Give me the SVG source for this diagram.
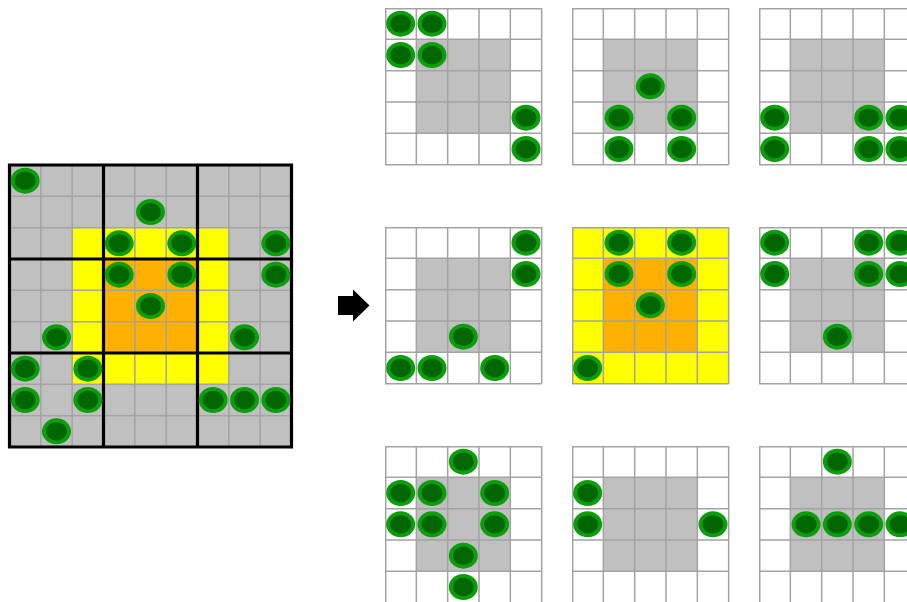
<svg xmlns="http://www.w3.org/2000/svg" xmlns:xlink="http://www.w3.org/1999/xlink" width="907" height="602" viewBox="0 0 907 602">
<style>
.thin{fill:none;stroke:#a3a3a3;stroke-width:1.5}
.thick{fill:none;stroke:#000;stroke-width:3.2}
.gray{fill:#c0c0c0}
.white{fill:#fff}
.yel{fill:#ffff00}
.org{fill:#ffb000}
.c1{fill:#0a9e0a}
.c2{fill:#006600}
</style>
<defs>
<g id="c"><ellipse rx="14.5" ry="13" class="c1"/><ellipse rx="10.5" ry="9.2" class="c2"/></g>
<path id="g5" class="thin" d="M0.75 0V156.67M31.33 0V156.67M62.67 0V156.67M94 0V156.67M125.33 0V156.67M156.67 0V156.67M0 0.75H156.67M0 31.33H156.67M0 62.67H156.67M0 94H156.67M0 125.33H156.67M0 156.67H156.67"/>
</defs>
<rect width="907" height="602" fill="#fff"/>

<g id="source-grid" transform="translate(9.5,165)">
<rect class="gray" width="282" height="282"/>
<rect class="yel" x="62.67" y="62.67" width="156.67" height="156.67"/>
<rect class="org" x="94" y="94" width="94" height="94"/>
<path class="thin" d="M31.33 0V282M62.67 0V282M125.33 0V282M156.67 0V282M219.33 0V282M250.67 0V282M0 31.33H282M0 62.67H282M0 125.33H282M0 156.67H282M0 219.33H282M0 250.67H282"/>
<path class="thick" d="M0 0H282V282H0ZM94 0V282M188 0V282M0 94H282M0 188H282"/>
<use href="#c" x="15.67" y="15.67"/>
<use href="#c" x="141" y="47"/>
<use href="#c" x="109.67" y="78.33"/>
<use href="#c" x="172.33" y="78.33"/>
<use href="#c" x="266.33" y="78.33"/>
<use href="#c" x="109.67" y="109.67"/>
<use href="#c" x="172.33" y="109.67"/>
<use href="#c" x="266.33" y="109.67"/>
<use href="#c" x="141" y="141"/>
<use href="#c" x="47" y="172.33"/>
<use href="#c" x="235" y="172.33"/>
<use href="#c" x="15.67" y="203.67"/>
<use href="#c" x="78.33" y="203.67"/>
<use href="#c" x="15.67" y="235"/>
<use href="#c" x="78.33" y="235"/>
<use href="#c" x="203.67" y="235"/>
<use href="#c" x="235" y="235"/>
<use href="#c" x="266.33" y="235"/>
<use href="#c" x="47" y="266.33"/>
</g>

<g id="connectors">
<path id="arrow" d="M338 296H353V289.5L369.5 305.5L353 321.5V315H338Z" fill="#000"/>
</g>

<g id="panel-1" transform="translate(385,8)">
<rect class="white" width="156.67" height="156.67"/>
<rect class="gray" x="31.33" y="31.33" width="94" height="94"/>
<use href="#g5"/>
<use href="#c" x="15.67" y="15.67"/>
<use href="#c" x="47" y="15.67"/>
<use href="#c" x="15.67" y="47"/>
<use href="#c" x="47" y="47"/>
<use href="#c" x="141" y="109.67"/>
<use href="#c" x="141" y="141"/>
</g>

<g id="panel-2" transform="translate(572,8)">
<rect class="white" width="156.67" height="156.67"/>
<rect class="gray" x="31.33" y="31.33" width="94" height="94"/>
<use href="#g5"/>
<use href="#c" x="78.33" y="78.33"/>
<use href="#c" x="47" y="109.67"/>
<use href="#c" x="109.67" y="109.67"/>
<use href="#c" x="47" y="141"/>
<use href="#c" x="109.67" y="141"/>
</g>

<g id="panel-3" transform="translate(759,8)">
<rect class="white" width="156.67" height="156.67"/>
<rect class="gray" x="31.33" y="31.33" width="94" height="94"/>
<use href="#g5"/>
<use href="#c" x="15.67" y="109.67"/>
<use href="#c" x="15.67" y="141"/>
<use href="#c" x="109.67" y="109.67"/>
<use href="#c" x="141" y="109.67"/>
<use href="#c" x="109.67" y="141"/>
<use href="#c" x="141" y="141"/>
</g>

<g id="panel-4" transform="translate(385,227)">
<rect class="white" width="156.67" height="156.67"/>
<rect class="gray" x="31.33" y="31.33" width="94" height="94"/>
<use href="#g5"/>
<use href="#c" x="141" y="15.67"/>
<use href="#c" x="141" y="47"/>
<use href="#c" x="78.33" y="109.67"/>
<use href="#c" x="15.67" y="141"/>
<use href="#c" x="47" y="141"/>
<use href="#c" x="109.67" y="141"/>
</g>

<g id="panel-5" transform="translate(572,227)">
<rect class="yel" width="156.67" height="156.67"/>
<rect class="org" x="31.33" y="31.33" width="94" height="94"/>
<use href="#g5"/>
<use href="#c" x="47" y="15.67"/>
<use href="#c" x="109.67" y="15.67"/>
<use href="#c" x="47" y="47"/>
<use href="#c" x="109.67" y="47"/>
<use href="#c" x="78.33" y="78.33"/>
<use href="#c" x="15.67" y="141"/>
</g>

<g id="panel-6" transform="translate(759,227)">
<rect class="white" width="156.67" height="156.67"/>
<rect class="gray" x="31.33" y="31.33" width="94" height="94"/>
<use href="#g5"/>
<use href="#c" x="15.67" y="15.67"/>
<use href="#c" x="109.67" y="15.67"/>
<use href="#c" x="141" y="15.67"/>
<use href="#c" x="15.67" y="47"/>
<use href="#c" x="109.67" y="47"/>
<use href="#c" x="141" y="47"/>
<use href="#c" x="78.33" y="109.67"/>
</g>

<g id="panel-7" transform="translate(385,446)">
<rect class="white" width="156.67" height="156.67"/>
<rect class="gray" x="31.33" y="31.33" width="94" height="94"/>
<use href="#g5"/>
<use href="#c" x="78.33" y="15.67"/>
<use href="#c" x="15.67" y="47"/>
<use href="#c" x="47" y="47"/>
<use href="#c" x="109.67" y="47"/>
<use href="#c" x="15.67" y="78.33"/>
<use href="#c" x="47" y="78.33"/>
<use href="#c" x="109.67" y="78.33"/>
<use href="#c" x="78.33" y="109.67"/>
<use href="#c" x="78.33" y="141"/>
</g>

<g id="panel-8" transform="translate(572,446)">
<rect class="white" width="156.67" height="156.67"/>
<rect class="gray" x="31.33" y="31.33" width="94" height="94"/>
<use href="#g5"/>
<use href="#c" x="15.67" y="47"/>
<use href="#c" x="15.67" y="78.33"/>
<use href="#c" x="141" y="78.33"/>
</g>

<g id="panel-9" transform="translate(759,446)">
<rect class="white" width="156.67" height="156.67"/>
<rect class="gray" x="31.33" y="31.33" width="94" height="94"/>
<use href="#g5"/>
<use href="#c" x="78.33" y="15.67"/>
<use href="#c" x="47" y="78.33"/>
<use href="#c" x="78.33" y="78.33"/>
<use href="#c" x="109.67" y="78.33"/>
<use href="#c" x="141" y="78.33"/>
</g>
</svg>
